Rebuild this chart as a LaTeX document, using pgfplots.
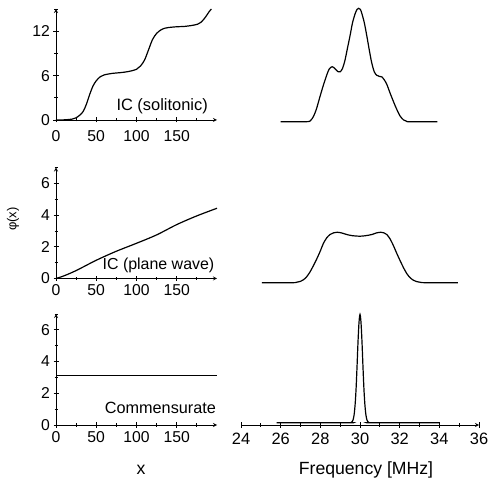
\documentclass[border=0pt]{standalone}
\usepackage{fontspec}
\setmainfont{Liberation Sans}
\usepackage{pgfplots}
\pgfplotsset{compat=1.18}

\pgfplotsset{
  common/.style={
    scale only axis, anchor=south west, clip=false,
    /pgf/number format/assume math mode=true,
    tick align=outside, major tick length=5bp, minor tick length=3bp,
    tick style={line width=0.8bp, black},
    axis line style={-, line width=0.8bp, black},
  },
  leftpanel/.style={
    common, width=161bp, height=111bp,
    xmin=0, xmax=200,
    xtick={0,50,100,150}, minor xtick={25,75,125,175},
    axis x line=bottom, axis y line=left,
    ticklabel style={font=\fontsize{15.8}{15.8}\selectfont},
  },
  rightpanel/.style={
    common, width=238bp, height=113.4bp,
    xmin=24, xmax=36, ymin=0, ymax=1,
  },
  curve/.style={black, line width=1.2bp},
}

\begin{document}
\begin{tikzpicture}
\useasboundingbox (0,0) rectangle (489bp,482bp);

% ---------- top left: solitonic ----------
\begin{axis}[leftpanel, at={(56bp,362bp)}, ymin=0, ymax=15,
  ytick={0,6,12}, minor ytick={3,9,15},
  xticklabel style={yshift=-4bp}]
\addplot[curve, smooth] coordinates {
(0,0) (10,0.02) (20,0.12) (25,0.3) (30,0.7) (34,1.2) (38,2.2) (42,3.5)
(46,4.6) (50,5.3) (55,5.85) (60,6.1) (70,6.3) (80,6.4) (90,6.55) (100,6.85)
(105,7.3) (110,8.1) (115,9.5) (120,10.9) (125,11.7) (130,12.15) (135,12.4)
(140,12.5) (150,12.6) (160,12.65) (170,12.8) (176,12.95) (180,13.2) (185,13.8)
(190,14.6) (193,15.0)
};
\node[anchor=base east, font=\fontsize{16.5}{16.5}\selectfont] at (axis cs:193,1.3) {IC (solitonic)};
\end{axis}

% ---------- middle left: plane wave ----------
\begin{axis}[leftpanel, at={(56bp,203.5bp)}, ymin=0, ymax=7,
  ytick={0,2,4,6}, minor ytick={1,3,5,7}]
\addplot[curve, smooth] coordinates {
(0,0) (10,0.17) (25,0.5) (50,1.15) (75,1.72) (100,2.22) (125,2.75)
(150,3.4) (175,3.95) (200,4.43)
};
\node[anchor=base east, font=\fontsize{16}{16}\selectfont] at (axis cs:201,0.55) {IC (plane wave)};
\end{axis}

% ---------- bottom left: commensurate ----------
\begin{axis}[leftpanel, at={(56bp,57bp)}, ymin=0, ymax=7,
  ytick={0,2,4,6}, minor ytick={1,3,5,7}]
\addplot[curve] coordinates {(0,3.14) (200,3.14)};
\node[anchor=base east, font=\fontsize{16.3}{16.3}\selectfont] at (axis cs:203,0.75) {Commensurate};
\end{axis}

% ---------- top right spectrum ----------
\begin{axis}[rightpanel, at={(241bp,360.3bp)}, hide axis]
\addplot[curve, smooth, tension=0.5] coordinates {
(26.0,0) (27.3,0) (27.5,0.01) (27.65,0.045) (27.8,0.11) (27.98,0.22)
(28.15,0.32) (28.32,0.41) (28.45,0.465) (28.6,0.485) (28.75,0.465)
(28.9,0.44) (29.0,0.44) (29.12,0.47) (29.24,0.54) (29.37,0.65) (29.5,0.76)
(29.62,0.87) (29.75,0.95) (29.85,0.99) (29.93,1.0) (30.02,0.99) (30.1,0.95)
(30.22,0.87) (30.34,0.76) (30.47,0.63) (30.59,0.52) (30.72,0.44) (30.84,0.41)
(30.97,0.40) (31.1,0.395) (31.22,0.37) (31.35,0.33) (31.5,0.26) (31.68,0.18)
(31.85,0.11) (32.02,0.05) (32.2,0.015) (32.36,0.003) (32.5,0) (33.9,0)
};
\end{axis}

% ---------- middle right spectrum ----------
\begin{axis}[rightpanel, at={(241bp,199.3bp)}, hide axis]
\addplot[curve, smooth, tension=0.5] coordinates {
(25.05,0) (26.6,0) (26.8,0.004) (27.0,0.012) (27.14,0.025) (27.3,0.05)
(27.48,0.095) (27.65,0.15) (27.82,0.21) (28.0,0.28) (28.15,0.345)
(28.32,0.395) (28.49,0.425) (28.67,0.44) (28.86,0.445) (29.05,0.44)
(29.33,0.425) (29.6,0.415) (30.0,0.41) (30.3,0.415) (30.6,0.425)
(30.85,0.44) (31.04,0.445) (31.2,0.44) (31.35,0.425) (31.52,0.385)
(31.69,0.325) (31.85,0.26) (32.02,0.195) (32.2,0.13) (32.36,0.08)
(32.52,0.045) (32.69,0.022) (32.85,0.01) (33.03,0.004) (33.3,0) (34.93,0)
};
\end{axis}

% ---------- bottom right spectrum ----------
\begin{axis}[rightpanel, at={(241bp,57bp)}, height=116.3bp, ymin=-0.02,
  axis x line=bottom, axis y line=none,
  xtick={24,26,...,36}, minor xtick={25,27,...,35},
  ticklabel style={font=\fontsize{16.5}{16.5}\selectfont},
  xticklabel style={yshift=-2.5bp}]
\addplot[curve, smooth, tension=0.5] coordinates {
(25.8,0) (29.45,0) (29.55,0.002) (29.6,0.008) (29.65,0.025) (29.7,0.066)
(29.75,0.15) (29.8,0.29) (29.85,0.49) (29.9,0.71) (29.95,0.88) (30.0,0.95)
(30.05,0.88) (30.1,0.71) (30.15,0.49) (30.2,0.29) (30.25,0.15) (30.3,0.066)
(30.35,0.025) (30.4,0.008) (30.45,0.002) (30.55,0) (34.0,0)
};
\end{axis}

% ---------- axis labels ----------
\node[rotate=90, font=\fontsize{13}{13}\selectfont] at (13bp,263bp) {φ(x)};
\node[font=\fontsize{17.7}{17.7}\selectfont] at (141bp,12bp) {x};
\node[font=\fontsize{17.7}{17.7}\selectfont] at (366bp,12bp) {Frequency [MHz]};
\end{tikzpicture}
\end{document}
